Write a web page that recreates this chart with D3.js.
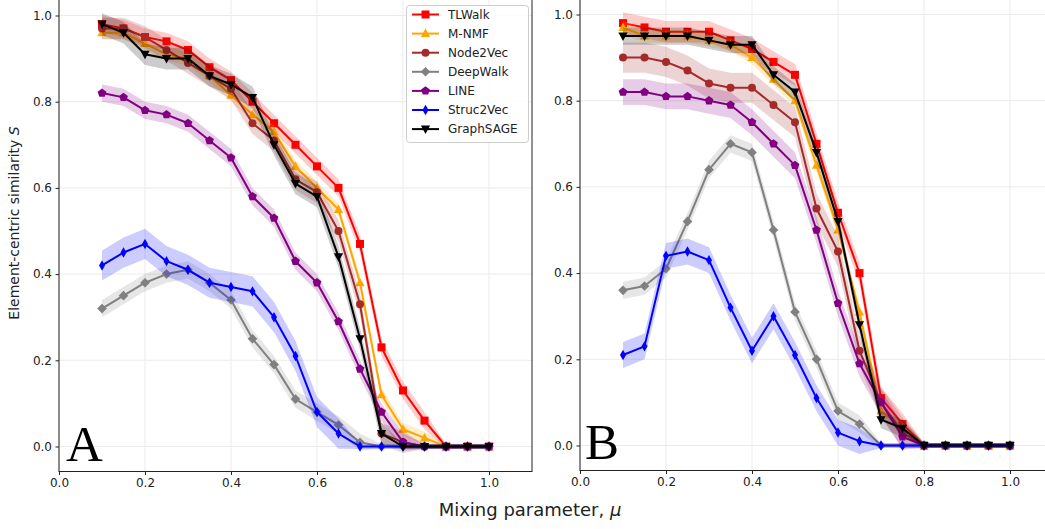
<!DOCTYPE html>
<html>
<head>
<meta charset="utf-8">
<script src="https://cdn.jsdelivr.net/npm/d3@7"></script>
<style>
  body { margin: 0; background: #fff; }
  svg { display: block; font-family: "DejaVu Sans", sans-serif; }
</style>
</head>
<body>
<svg id="chart" width="1045" height="529"></svg>
<script>
// mixing parameter values (x)
const mu = [0.1, 0.15, 0.2, 0.25, 0.3, 0.35, 0.4, 0.45, 0.5, 0.55, 0.6, 0.65, 0.7, 0.75, 0.8, 0.85, 0.9, 0.95, 1.0];
const methods = ["TLWalk", "M-NMF", "Node2Vec", "DeepWalk", "LINE", "Struc2Vec", "GraphSAGE"];
const colors = ["#ff0000", "#ffa500", "#a52a2a", "#808080", "#800080", "#0000ff", "#000000"];
const markers = ["square", "triangle", "circle", "diamond", "pentagon", "thinDiamond", "triangleDown"];
const xTicks = [0.0, 0.2, 0.4, 0.6, 0.8, 1.0];
const yTicks = [0.0, 0.2, 0.4, 0.6, 0.8, 1.0];

// panel A
const tlwalkA    = [0.98, 0.97, 0.95, 0.94, 0.92, 0.88, 0.85, 0.80, 0.75, 0.70, 0.65, 0.60, 0.47, 0.23, 0.13, 0.06, 0, 0, 0];
const mnmfA      = [0.96, 0.96, 0.935, 0.91, 0.90, 0.86, 0.815, 0.77, 0.73, 0.65, 0.60, 0.55, 0.38, 0.12, 0.04, 0.02, 0, 0, 0];
const node2vecA  = [0.97, 0.97, 0.95, 0.92, 0.89, 0.86, 0.83, 0.75, 0.71, 0.62, 0.59, 0.50, 0.33, 0.03, 0.01, 0, 0, 0, 0];
const deepwalkA  = [0.32, 0.35, 0.38, 0.40, 0.41, 0.38, 0.34, 0.25, 0.19, 0.11, 0.08, 0.05, 0.01, 0, 0, 0, 0, 0, 0];
const lineA      = [0.82, 0.81, 0.78, 0.77, 0.75, 0.71, 0.67, 0.58, 0.53, 0.43, 0.38, 0.29, 0.18, 0.08, 0.01, 0, 0, 0, 0];
const struc2vecA = [0.42, 0.45, 0.47, 0.43, 0.41, 0.38, 0.37, 0.36, 0.30, 0.21, 0.08, 0.03, 0, 0, 0, 0, 0, 0, 0];
const graphsageA = [0.98, 0.96, 0.91, 0.90, 0.90, 0.86, 0.84, 0.81, 0.70, 0.61, 0.58, 0.44, 0.25, 0.03, 0, 0, 0, 0, 0];
const spreadA    = [0.02, 0.015, 0.025, 0.02, 0.02, 0.035, 0.025];

// panel B
const tlwalkB    = [0.98, 0.97, 0.96, 0.96, 0.96, 0.94, 0.92, 0.89, 0.86, 0.70, 0.54, 0.40, 0.11, 0.05, 0, 0, 0, 0, 0];
const mnmfB      = [0.97, 0.95, 0.95, 0.95, 0.94, 0.93, 0.90, 0.85, 0.80, 0.65, 0.50, 0.31, 0.08, 0.04, 0, 0, 0, 0, 0];
const node2vecB  = [0.90, 0.90, 0.89, 0.87, 0.84, 0.83, 0.83, 0.79, 0.75, 0.55, 0.45, 0.22, 0.10, 0.03, 0, 0, 0, 0, 0];
const deepwalkB  = [0.36, 0.37, 0.41, 0.52, 0.64, 0.70, 0.68, 0.50, 0.31, 0.20, 0.08, 0.05, 0, 0, 0, 0, 0, 0, 0];
const lineB      = [0.82, 0.82, 0.81, 0.81, 0.80, 0.79, 0.75, 0.70, 0.65, 0.50, 0.33, 0.19, 0.10, 0.02, 0, 0, 0, 0, 0];
const struc2vecB = [0.21, 0.23, 0.44, 0.45, 0.43, 0.32, 0.22, 0.30, 0.21, 0.11, 0.03, 0.01, 0, 0, 0, 0, 0, 0, 0];
const graphsageB = [0.95, 0.95, 0.95, 0.95, 0.94, 0.93, 0.93, 0.86, 0.82, 0.68, 0.52, 0.28, 0.06, 0.04, 0, 0, 0, 0, 0];
const spreadB    = [0.025, 0.015, 0.035, 0.02, 0.03, 0.03, 0.02];

const seriesA = [tlwalkA, mnmfA, node2vecA, deepwalkA, lineA, struc2vecA, graphsageA];
const seriesB = [tlwalkB, mnmfB, node2vecB, deepwalkB, lineB, struc2vecB, graphsageB];

const svg = d3.select("#chart");

// marker shapes (centered at 0,0)
function markerPath(type) {
    const p = d3.path();
    if (type === "square") {
        p.rect(-4, -4, 8, 8);
    } else if (type === "circle") {
        p.arc(0, 0, 4, 0, 2 * Math.PI);
    } else if (type === "triangle") {
        p.moveTo(0, -5); p.lineTo(4.6, 3.5); p.lineTo(-4.6, 3.5); p.closePath();
    } else if (type === "triangleDown") {
        p.moveTo(0, 5); p.lineTo(4.6, -3.5); p.lineTo(-4.6, -3.5); p.closePath();
    } else if (type === "diamond") {
        p.moveTo(0, -4.8); p.lineTo(4.8, 0); p.lineTo(0, 4.8); p.lineTo(-4.8, 0); p.closePath();
    } else if (type === "thinDiamond") {
        p.moveTo(0, -5.2); p.lineTo(3, 0); p.lineTo(0, 5.2); p.lineTo(-3, 0); p.closePath();
    } else if (type === "pentagon") {
        for (let k = 0; k < 5; k++) {
            const a = -Math.PI / 2 + k * 2 * Math.PI / 5;
            const px = 4.6 * Math.cos(a), py = 4.6 * Math.sin(a);
            if (k === 0) p.moveTo(px, py); else p.lineTo(px, py);
        }
        p.closePath();
    }
    return p.toString();
}

function drawPanel(cfg) {
    const x = d3.scaleLinear().domain([0, 1]).range([cfg.x0, cfg.x1]);
    const y = d3.scaleLinear().domain([0, 1]).range([cfg.y0, cfg.y1]);
    const left = x(0), right = x(1.1), bottom = y(-0.058), top = -5;

    const g = svg.append("g");

    // grid
    g.selectAll(".vgrid").data(xTicks).join("line")
        .attr("x1", d => x(d)).attr("x2", d => x(d))
        .attr("y1", bottom).attr("y2", top)
        .attr("stroke", "#ebebeb").attr("stroke-width", 1);
    g.selectAll(".hgrid").data(yTicks).join("line")
        .attr("x1", left).attr("x2", right)
        .attr("y1", d => y(d)).attr("y2", d => y(d))
        .attr("stroke", "#ebebeb").attr("stroke-width", 1);

    // series
    cfg.series.forEach((vals, i) => {
        const pts = vals.map((v, j) => ({ mu: mu[j], v: v, s: v > 0 ? cfg.spread[i] : 0.006 }));
        const band = d3.area()
            .x(d => x(d.mu))
            .y0(d => y(d.v - d.s))
            .y1(d => y(d.v + d.s));
        g.append("path")
            .attr("d", band(pts))
            .attr("fill", colors[i])
            .attr("fill-opacity", 0.2);
        const line = d3.line().x(d => x(d.mu)).y(d => y(d.v));
        g.append("path")
            .attr("d", line(pts))
            .attr("fill", "none")
            .attr("stroke", colors[i])
            .attr("stroke-width", 2)
            .attr("stroke-linejoin", "round");
        g.selectAll(null).data(pts).join("path")
            .attr("d", markerPath(markers[i]))
            .attr("transform", d => `translate(${x(d.mu)},${y(d.v)})`)
            .attr("fill", colors[i]);
    });

    // axes
    const xAxis = d3.axisBottom(x).tickValues(xTicks).tickFormat(d3.format(".1f"))
        .tickSize(3.5).tickPadding(3.5).tickSizeOuter(0);
    const gx = g.append("g").attr("transform", `translate(0,${bottom})`).call(xAxis);
    const yAxis = d3.axisLeft(y).tickValues(yTicks).tickFormat(d3.format(".1f"))
        .tickSize(3.5).tickPadding(3.5).tickSizeOuter(0);
    const gy = g.append("g").attr("transform", `translate(${left},0)`).call(yAxis);
    [gx, gy].forEach(a => {
        a.select(".domain").remove();
        a.selectAll("text").attr("font-size", 12).attr("font-family", "DejaVu Sans").attr("fill", "#222");
        a.selectAll("line").attr("stroke", "#222");
    });

    // spines
    g.append("rect")
        .attr("x", left).attr("y", top)
        .attr("width", right - left).attr("height", bottom - top)
        .attr("fill", "none").attr("stroke", "#222").attr("stroke-width", 1);

    // panel letter
    g.append("text")
        .attr("x", cfg.letterX).attr("y", cfg.letterY)
        .attr("font-family", "Liberation Serif, serif")
        .attr("font-size", 51)
        .attr("fill", "#000")
        .text(cfg.letter);
}

drawPanel({ series: seriesA, spread: spreadA, x0: 59, x1: 489, y0: 446.5, y1: 15.5, letter: "A", letterX: 66, letterY: 461 });
drawPanel({ series: seriesB, spread: spreadB, x0: 580, x1: 1010, y0: 445.5, y1: 14.5, letter: "B", letterX: 585, letterY: 459 });

// legend
const legend = svg.append("g").attr("transform", "translate(406.5,5.5)");
legend.append("rect")
    .attr("width", 122).attr("height", 137).attr("rx", 3)
    .attr("fill", "#fff").attr("fill-opacity", 0.85)
    .attr("stroke", "#cccccc");
methods.forEach((m, i) => {
    const ry = 9 + i * 19.1;
    const row = legend.append("g").attr("transform", `translate(0,${ry})`);
    row.append("line").attr("x1", 5.5).attr("x2", 32.5).attr("y1", 0).attr("y2", 0)
        .attr("stroke", colors[i]).attr("stroke-width", 2);
    row.append("path").attr("d", markerPath(markers[i]))
        .attr("transform", "translate(19,0)").attr("fill", colors[i]);
    row.append("text").attr("x", 41.5).attr("y", 0).attr("dy", "0.36em")
        .attr("font-size", 12).attr("fill", "#222").text(m);
});

// axis labels
svg.append("text")
    .attr("transform", "translate(19,223) rotate(-90)")
    .attr("text-anchor", "middle")
    .attr("font-size", 14).attr("fill", "#222")
    .call(t => {
        t.append("tspan").text("Element-centric similarity ");
        t.append("tspan").attr("font-style", "italic").text("S");
    });

svg.append("text")
    .attr("x", 530).attr("y", 516)
    .attr("text-anchor", "middle")
    .attr("font-size", 18).attr("fill", "#222")
    .call(t => {
        t.append("tspan").text("Mixing parameter, ");
        t.append("tspan").attr("font-style", "italic").text("μ");
    });
</script>
</body>
</html>
